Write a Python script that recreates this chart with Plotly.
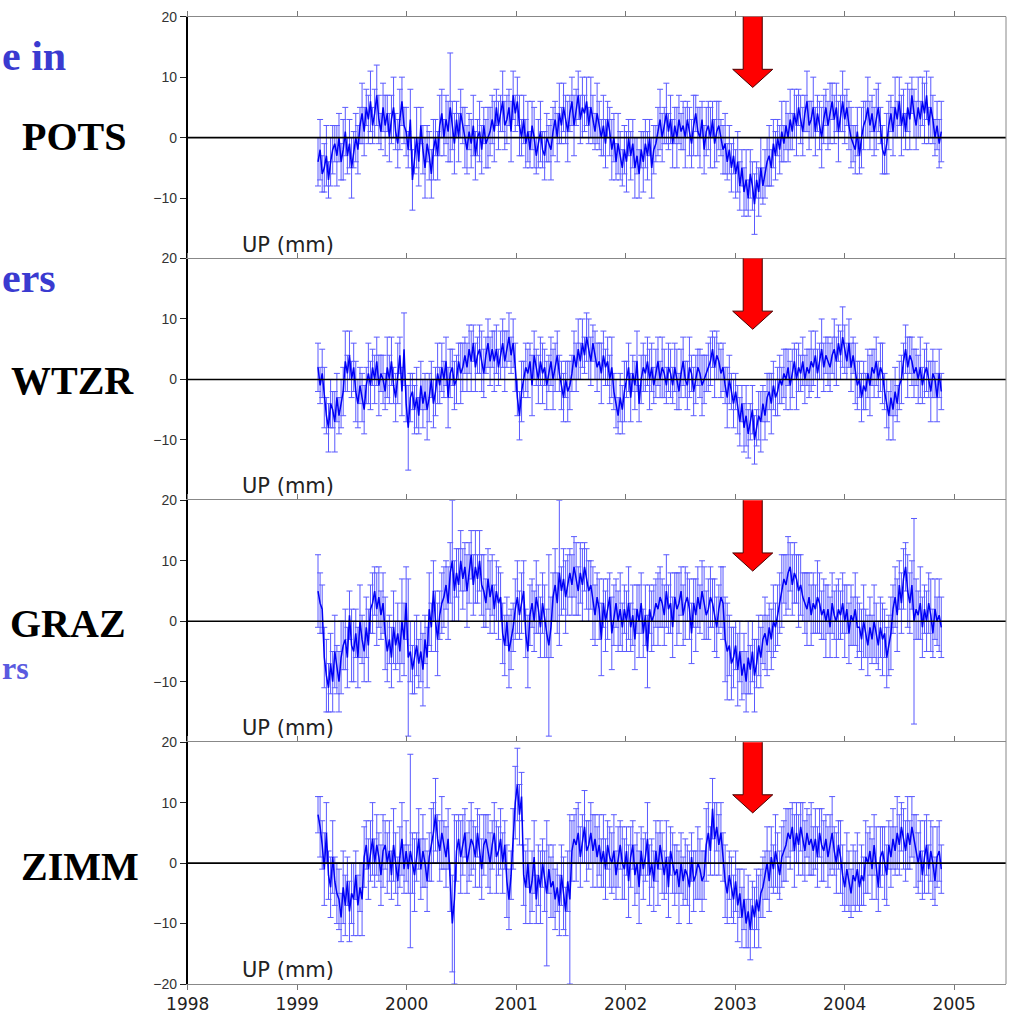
import plotly.graph_objects as go

# ---------------- data (weekly GPS height solutions, mm) ----------------
STATIONS = ["POTS", "WTZR", "GRAZ", "ZIMM"]
START_YEAR = 1999.19          # first weekly epoch (decimal year)
WEEK_YR = 7 / 365.25          # weekly sampling
EVENT_YEAR = 2003.16          # red arrow position
X_TICKS = [1998, 1999, 2000, 2001, 2002, 2003, 2004, 2005]
Y_TICKS_TOP = [-10, 0, 10, 20]
Y_TICKS_BOTTOM = [-20, -10, 0, 10, 20]

POTS_UP = [
    -4, -2, -6, -5, -3, -7, -4, -2, -1, -3, 0, -4, -2, 1, -3, -1, -5, -2, 0, -2,
    2, 4, 1, 5, 3, 6, 2, 4, 7, 3, 1, 5, 2, 4, 0, 3, 5, 1, -1, 3, 6, 2,
    1, -2, 3, -7, -3, 0, -4, 2, -2, -5, -1, -3, -6, -2, 0, -3, 2, 4, 0, 3, 1, 5, 2, -1, 3, 0, 4, 2,
    0, -2, 1, -1, 2, -3, 0, 1, -2, 2, -1, 0, 1, 3, 1, 5, 2, 4, 6, 2, 3, 5, 1, 7,
    4, 6, 2, 0, 3, -1, 1, -2, 2, 0, -3, -1, 1, -2, -3, 0, -1, -2, 1, 3, 0, 4, 2, 5, 3, 1,
    4, 6, 2, 5, 7, 3, 5, 4, 6, 2, 5, 3, 1, 4, 2, 0, 2, -1, 3, 1, -2, 0, -4, -1, -3, -5,
    -2, -4, 0, -3, -1, -5, -3, -6, -2, -4, -1, -3, 0, -5, -2, -1, 1, 3, 0, 2, 4, 1, 3, -1, 2, 0,
    3, 1, 2, 0, 3, 1, -1, 2, 4, 1, 0, 3, -2, 1, 2, 0, 3, -1, 1, 2, 0, -2, -1, -4, -2, -5,
    -3, -6, -4, -8, -5, -9, -7, -10, -6, -8, -11, -7, -9, -5, -8, -6, -4, -3, -5, -1, -3, 0, -2, 1, -1, 2,
    0, 3, 1, 4, 2, 5, 3, 1, 4, 6, 2, 3, 5, 1, 4, 2, 0, 3, 5, 2, 4, 6, 3, 5, 1, 4,
    6, 3, 5, 2, 0, -1, -2, 1, -3, 0, 2, 3, 5, 2, 4, 1, 3, 5, 2, -2, -3, -1,
    2, 4, 1, 5, 3, 6, 2, 4, 1, 5, 3, 7, 4, 2, 5, 3, 6, 4, 7, 2, 5, 3, 0, 2, -1, 1,
]
POTS_ERR = [
    4, 5, 3, 4, 5, 3, 4, 4, 3, 5, 4, 3, 5, 4, 3, 4, 5, 3, 4, 4, 3, 5, 4, 3, 4, 5, 3, 4, 5, 4,
    3, 4, 5, 3, 4, 4, 5, 3, 4, 5, 4, 3,
    4, 3, 5, 5, 3, 5, 4, 3, 4, 5, 3, 4, 4, 5, 3, 4, 5, 4, 3, 4, 5, 9, 4, 5, 3, 4, 4, 3, 5, 4,
    3, 4, 5, 4, 3, 5, 4, 3, 4, 5, 4, 4, 5, 3, 4, 3, 5, 4, 4, 3, 5, 4,
    3, 4, 5, 3, 4, 4, 5, 3, 4, 5, 3, 4, 5, 3, 4, 4, 3, 5, 4, 3, 4, 5, 3, 4, 4, 5, 3, 4, 5, 3,
    4, 4, 5, 3, 4, 3, 5, 4, 3, 5, 4, 3, 5, 4, 3, 4, 5, 4, 3, 5, 4, 3,
    4, 5, 3, 4, 4, 5, 3, 4, 3, 5, 4, 4, 3, 5, 4, 3, 4, 5, 4, 3, 5, 3, 4, 4, 3, 5, 4, 3, 4, 5,
    3, 4, 4, 5, 3, 4, 5, 3, 4, 4, 4, 5, 3, 4, 5, 4, 3, 4, 5, 3, 4, 4,
    3, 4, 5, 4, 3, 4, 5, 3, 4, 4, 5, 3, 4, 5, 3, 4, 4, 5, 3, 4, 4, 3, 4, 5, 3, 4, 4, 5, 3, 4,
    5, 3, 4, 4, 3, 5, 4, 3, 5, 4, 3, 4, 5, 4, 3, 4, 5, 3, 4, 4, 5, 3,
    5, 4, 3, 4, 5, 3, 4, 4, 3, 5, 4, 3, 5, 4, 3, 4, 5, 4, 3, 4, 3, 5, 4, 3, 4, 5, 3, 4, 5, 4,
    3, 4, 5, 3, 4, 4, 5, 3, 4, 5, 4, 3, 5, 4, 3, 4, 4, 5,
]

WTZR_UP = [
    2, -1, 1, -3, -6, -8, -4, -5, -7, -3, -6, -4, -2, 3, 1, 4, 0, 2, -2, -4, -1, -3, -5, -1,
    1, -1, 2, 0, 3, -1, 1, 0, -2, 2, 0, 3, -1, -3, 1, 4, -2, 5,
    -4, -8, -3, -2, -5, -3, -6, -1, -4, -2, -5, -3, 0, -4, -2, 1, -1, 2, 0, 3, -3, 1, 2, -1, 0, 3, 1, 2,
    4, 2, 5, 3, 6, 2, 4, 5, 3, 1, 4, 6, 3, 5, 3, 5, 2, 4, 6, 3, 5, 7, 4, 6,
    2, -3, -6, -2, 0, 2, 1, 3, -1, 4, 2, 0, 3, 1, 2, -1, 1, 3, 0, 2, 4, 1, -1, -3, 0, -2, -1, 1,
    4, 2, 5, 3, 6, 4, 7, 5, 3, 6, 4, 2, 3, 1, 4, 2, 3, 0, 2, -2, -4, -6, -3, -5,
    -2, 0, 2, -3, 1, -1, 3, -4, 0, 2, 1, 3, 0, 2, -1, 1, 3, 0, 2, 1, -1, 2,
    1, -1, 2, 0, -2, 1, 3, 0, -1, 2, 1, -2, 0, 2, 1, -1, 0, 1, 2, 3, 5, 2, 4, 3, 1, 2, -1, -3, 0, -2,
    -4, -2, -5, -7, -4, -8, -6, -9, -7, -5, -10, -8, -6, -7, -4, -6, -3, -2, -4, -1, -3, -2, 0, -1,
    1, 0, 2, -1, 1, 3, 0, 2, 1, 3, 0, 2, 1, 3, 2, 4, 1, 3, 5, 2, 4, 3, 2, 4, 5, 3, 6, 4,
    7, 5, 3, 6, 2, 4, 1, -1, 0, -3, -1, -2, 1, -1, 2, 1, 3, 0, 2, 1, -2, -4,
    -6, -3, -5, -2, -4, -1, 0, 3, 5, 2, 4, 3, 1, 2, 0, 2, -1, 1, 2, 0, -2, 1, 0, -3, 1, -2,
]
WTZR_ERR = [
    4, 3, 4, 5, 3, 4, 4, 3, 5, 4, 3, 4, 4, 5, 3, 4, 3, 4, 5, 4, 3, 4, 4, 3, 5, 4, 3, 4, 4, 5,
    3, 4, 3, 5, 4, 4, 3, 4, 5, 3, 4, 6,
    3, 7, 4, 3, 4, 5, 3, 4, 4, 3, 5, 4, 3, 4, 4, 5, 3, 4, 3, 4, 5, 4, 3, 4, 4, 3, 5, 4, 3, 4,
    4, 5, 3, 4, 3, 4, 5, 4, 3, 4, 4, 3, 5, 4, 3, 4, 4, 5, 3, 4, 3, 4,
    4, 3, 4, 5, 3, 4, 4, 3, 5, 4, 3, 4, 4, 5, 3, 4, 3, 4, 5, 4, 4, 3, 4, 4, 3, 5, 4, 3, 4, 4,
    5, 3, 4, 3, 4, 5, 4, 3, 4, 4, 3, 5, 4, 3, 4, 4, 5, 3, 4, 3, 4, 4,
    5, 3, 4, 4, 3, 4, 5, 3, 4, 4, 3, 4, 5, 4, 3, 4, 4, 3, 5, 4, 3, 4, 4, 3, 4, 5, 3, 4, 4, 3,
    4, 5, 3, 4, 4, 3, 4, 5, 4, 3, 4, 4, 3, 5, 4, 3, 4, 4, 3, 5, 4, 3,
    4, 3, 4, 4, 3, 4, 5, 4, 3, 4, 4, 3, 4, 5, 3, 4, 4, 3, 5, 4, 3, 4, 4, 3, 4, 5, 3, 4, 4, 3,
    5, 4, 3, 4, 4, 3, 4, 5, 3, 4, 4, 3, 5, 4, 3, 4, 4, 3, 5, 4, 3, 4,
    5, 4, 3, 4, 4, 3, 5, 4, 3, 4, 4, 3, 4, 5, 3, 4, 4, 3, 4, 5, 3, 4, 4, 3, 5, 4, 3, 4, 4, 3,
    4, 5, 3, 4, 4, 3, 4, 5, 3, 4, 4, 3, 5, 4, 3, 4, 4, 3,
]

GRAZ_UP = [
    5, 3, 2, -6, -9, -11, -7, -10, -5, -8, -10, -6, -4, -3, -6, 1, -4, -5, -2, -6, 0, -3, -5, -1, -4, 2,
    3, 5, 2, 4, 1, 3, -2, -5, -3, -6, -1, -4, -2, -5, 0, -3,
    3, -6, -5, -8, -6, -4, -7, -5, -8, -3, -6, 2, -1, 5, 0, -3, 1, 3, 4, 6, 3, 8, 10, 5,
    8, 6, 10, 7, 9, 5, 8, 11, 6, 9, 7, 10, 6, 5, 3, 7, 4, 6, 2, 5, 3, 4, -2, -4, 0, -5, -3, -1,
    2, 4, 1, 3, 5, -2, -5, 1, 3, 0, 4, 2, -1, 3, 0, -2, -4, -1, 4, 6, 3, 8, 5, 7, 4, 6,
    8, 6, 9, 7, 5, 8, 6, 9, 7, 5, 6, 3, 1, 4, 2, -3, 3, 0, 2, 4, -2, 1, 3, 0, 2, -1,
    2, 0, 3, -1, 1, -3, 2, 0, 3, -2, 1, -5, 2, 0, 1, 3, 2, 4, 3, 1, 5, 2, 3, -1, 4, 2,
    3, 5, 1, 3, 4, 2, -2, 3, 1, 4, 2, 5, 3, 1, 2, 4, 3, 1, -1, 2, 4, 3, -3, -5, -4, -7,
    -6, -4, -8, -5, -9, -7, -10, -6, -8, -5, -9, -7, -4, -6, -3, -2, -4, -1, -3, 0, -1, 1,
    3, 5, 7, 6, 8, 9, 6, 8, 7, 5, 6, 4, 3, 2, 4, 1, 3, 2, 4, 3, 1, 2, 0, 2, -1, 3, 1, 0, 2, 1,
    3, 0, 2, -2, 1, 0, 2, -1, -1, -3, 0, -2, -4, -1, -3, 0, -2, -4, -1, -3, -2, -6, -4, -2,
    2, 4, 1, 6, 3, 7, 9, 5, 3, 6, 0, 2, 1, 3, -1, 2, 0, 3, 1, -2, 2, 0, 1, -1,
]
GRAZ_ERR = [
    6, 5, 4, 5, 6, 4, 5, 5, 6, 4, 5, 6, 4, 5, 5, 4, 6, 5, 4, 5, 6, 4, 5, 5, 6, 4, 5, 4, 6, 5,
    4, 5, 6, 5, 4, 5, 6, 4, 5, 5, 7, 6,
    6, 13, 5, 4, 6, 5, 4, 5, 6, 4, 5, 6, 4, 5, 5, 6, 4, 5, 5, 4, 6, 5, 10, 5, 4, 6, 5, 5, 4, 6,
    5, 4, 5, 6, 4, 5, 5, 6, 4, 5, 6, 5, 4, 5, 6, 4, 5, 5, 4, 6, 5, 4,
    5, 6, 4, 5, 5, 4, 6, 5, 4, 5, 6, 4, 5, 5, 6, 4, 15, 5, 4, 6, 5, 12, 4, 5, 6, 5, 4, 5, 5, 6,
    4, 5, 6, 4, 5, 5, 4, 6, 5, 4, 5, 6, 4, 5, 5, 4, 6, 5, 4, 5, 6, 4,
    4, 5, 6, 4, 5, 5, 4, 6, 5, 4, 5, 6, 4, 5, 5, 4, 6, 5, 4, 5, 6, 4, 5, 5, 4, 6, 5, 4, 5, 6,
    4, 5, 5, 4, 6, 5, 4, 5, 6, 4, 5, 5, 4, 6, 5, 4, 5, 6, 7, 8, 5, 6,
    5, 4, 6, 5, 4, 5, 5, 6, 4, 5, 6, 4, 5, 5, 4, 6, 5, 4, 5, 6, 4, 5, 5, 6, 4, 5, 6, 4, 5, 5,
    4, 6, 5, 4, 5, 6, 4, 5, 5, 4, 6, 5, 4, 5, 6, 4, 5, 5, 4, 6, 5, 4,
    5, 6, 4, 5, 5, 4, 6, 5, 4, 5, 6, 4, 5, 5, 4, 6, 5, 4, 5, 6, 4, 5, 5, 6, 4, 5, 6, 4, 5, 5,
    4, 6, 5, 4, 17, 5, 4, 6, 5, 4, 5, 5, 6, 4, 5, 4, 6, 5,
]

ZIMM_UP = [
    8, 6, 3, -1, 5, -2, -4, 1, -3, -5, -6, -9, -4, -7, -3, -8, -5, -6, -2, -7, -4, -6,
    1, 3, -1, 2, 4, 0, 3, 1, -2, 2, 3, 0, 2, -2, 3, 0, -3, 1, 4, -1,
    2, -1, 2, 0, -2, 1, 4, -1, 2, 0, -3, 1, 3, 5, 8, 4, 2, 5, 3, 1, 4, -4, -10, -6,
    2, 4, 1, 3, 5, 0, 2, 4, 3, 1, 5, 2, -1, 3, 4, 2, 0, 3, 5, 1, 2, 4, 0, 3, -3, -6, -2, 4,
    10, 13, 8, 11, -2, -4, 0, -5, -3, 1, -6, -2, -4, 0, -3, -5, -1, -4, -3, -6, -4, -7, -2, -5, -8, -3, -6,
    2, 4, 3, 5, 1, 4, 6, 2, 3, 5, 2, 4, 1, 3, 0, 2, -1, 3, 1, 0, 2, -2, 1, 3, 0,
    -1, 2, -3, 1, 3, -2, 0, -4, 2, -1, 1, 4, -2, 0, -3, 2, -1, 3, 0, -2, 1, -4, 2, 0,
    -2, -1, -4, 0, -3, -1, -2, -4, 1, -3, -2, 0, -1, -3, -2, 3, 5, 2, 9, 4, 6, 3, 5, 1, -3, -5, -2, -4,
    -6, -3, -7, -5, -9, -6, -10, -8, -11, -7, -9, -6, -8, -5, -4, -2, 0, -3, 1, -1, 2, 0, -2, 1, 2,
    3, 5, 4, 6, 2, 5, 3, 6, 4, 2, 5, 3, 4, 2, 4, 1, 5, 3, 2, 4, 1, 3, 5, 2, 0, 3, 1,
    -2, -4, -1, -3, -5, -2, -3, -1, -4, -2, -3, 1, 0, 2, -1, 3, 0, -4, 1, 2, 0, -2, 3, 1,
    4, 2, 5, 3, 6, 4, 2, 5, 3, 6, 4, 2, 0, 2, -2, 1, 3, -1, 2, 0, -3, 1, 2, -1,
]
ZIMM_ERR = [
    3, 5, 4, 6, 5, 4, 5, 6, 4, 5, 5, 4, 6, 5, 4, 5, 5, 6, 4, 5, 4, 6, 5, 4, 5, 5, 6, 4, 5, 4,
    5, 6, 4, 5, 5, 4, 6, 5, 4, 5, 6, 4,
    5, 4, 16, 5, 6, 4, 5, 5, 6, 4, 5, 4, 6, 5, 6, 4, 5, 6, 4, 5, 5, 4, 8, 14, 5, 4, 6, 5, 4, 5,
    5, 6, 4, 5, 4, 6, 5, 5, 4, 6, 5, 4, 5, 6, 4, 5, 5, 4, 6, 5, 4, 5,
    6, 6, 5, 4, 5, 6, 4, 5, 5, 6, 4, 5, 6, 4, 5, 12, 4, 5, 6, 5, 4, 5, 5, 6, 4, 5, 14, 5, 4, 6,
    5, 5, 4, 6, 5, 4, 5, 6, 4, 5, 5, 4, 6, 5, 4, 5, 5, 6, 4, 5, 4, 6,
    5, 4, 6, 5, 4, 5, 5, 6, 4, 5, 4, 6, 5, 4, 5, 5, 6, 4, 5, 4, 6, 5, 4, 5, 5, 4, 6, 5, 4, 5,
    5, 6, 4, 5, 4, 6, 5, 5, 4, 6, 5, 4, 5, 6, 4, 5, 5, 4, 6, 5, 4, 5,
    4, 5, 6, 4, 5, 5, 4, 6, 5, 4, 5, 5, 6, 4, 5, 4, 6, 5, 5, 4, 6, 5, 4, 5, 5, 6, 4, 5, 4, 6,
    5, 5, 4, 6, 5, 4, 5, 6, 4, 5, 5, 4, 6, 5, 4, 5, 5, 6, 4, 5, 4, 6,
    5, 4, 6, 5, 4, 5, 5, 6, 4, 5, 4, 6, 5, 4, 5, 5, 6, 4, 5, 4, 6, 5, 4, 5, 5, 4, 6, 5, 4, 5,
    5, 6, 4, 5, 4, 6, 5, 5, 4, 6, 5, 4, 5, 6, 4, 5, 5, 4,
]

SERIES = {
    "POTS": (POTS_UP, POTS_ERR),
    "WTZR": (WTZR_UP, WTZR_ERR),
    "GRAZ": (GRAZ_UP, GRAZ_ERR),
    "ZIMM": (ZIMM_UP, ZIMM_ERR),
}

# ---------------- layout geometry (pixels) ----------------
W, H = 1010, 1014
XL_PX, XR_PX = 187.7, 1006.0
YT_PX, YB_PX = 16.7, 984.0
PX_PER_YEAR = 109.5
PH = (YB_PX - YT_PX) / 4
X_RANGE = [1998, 1998 + (XR_PX - XL_PX) / PX_PER_YEAR]

LABEL_POS = {  # (center x px, center y px) for station names
    "POTS": (74, 136), "WTZR": (72, 380), "GRAZ": (68, 623), "ZIMM": (80, 866),
}

fig = go.Figure()
shapes, annotations = [], []

for k, name in enumerate(STATIONS):
    up, err = SERIES[name]
    n = min(len(up), len(err))
    xs = [START_YEAR + i * WEEK_YR for i in range(n)]
    sfx = "" if k == 0 else str(k + 1)
    fig.add_trace(go.Scatter(
        x=xs, y=up[:n], mode="lines", name=name, showlegend=False,
        line=dict(color="#0000f5", width=1.5),
        error_y=dict(type="data", array=err[:n], visible=True,
                     color="#5a5aff", thickness=1, width=3),
        xaxis="x" + sfx, yaxis="y" + sfx,
    ))
    top = YT_PX + k * PH
    dom = [1 - (top + PH) / H, 1 - top / H]
    last = (k == 3)
    xa = dict(
        domain=[XL_PX / W, XR_PX / W], range=X_RANGE, anchor="y" + sfx,
        tickvals=X_TICKS, ticks="outside", ticklen=5, tickcolor="#777",
        showline=True, linecolor="#888", linewidth=1, showgrid=False, zeroline=False,
        side="bottom" if last else "top", mirror="ticks" if last else False,
        showticklabels=last,
        tickfont=dict(family="DejaVu Sans", size=17, color="#222"),
    )
    if k > 0:
        xa["matches"] = "x"
    ya = dict(
        domain=dom, range=[-20, 20], anchor="x" + sfx,
        tickvals=Y_TICKS_BOTTOM if last else Y_TICKS_TOP,
        ticks="outside", ticklen=6, tickcolor="#222",
        showline=True, linecolor="#000", linewidth=1.6,
        showgrid=False, zeroline=False,
        tickfont=dict(family="Liberation Sans", size=14, color="#333"),
    )
    fig.layout["xaxis" + sfx] = xa
    fig.layout["yaxis" + sfx] = ya

    # zero line drawn over the data
    shapes.append(dict(type="line", xref="x" + sfx + " domain", yref="y" + sfx,
                       x0=0, x1=1, y0=0, y1=0, line=dict(color="#000", width=1.6),
                       layer="above"))
    # red event arrow
    sw, hw = 0.087, 0.183
    ytop, yhead, ytip = 20.6, 11.3, 8.3
    xe = EVENT_YEAR
    path = (f"M {xe - sw},{ytop} L {xe + sw},{ytop} L {xe + sw},{yhead} "
            f"L {xe + hw},{yhead} L {xe},{ytip} L {xe - hw},{yhead} "
            f"L {xe - sw},{yhead} Z")
    shapes.append(dict(type="path", path=path, xref="x" + sfx, yref="y" + sfx,
                       fillcolor="#ff0000", line=dict(color="#4a0000", width=1),
                       layer="above"))
    # "UP (mm)" label
    annotations.append(dict(
        text="UP (mm)", xref="x" + sfx + " domain", yref="y" + sfx + " domain",
        x=(240 - XL_PX) / (XR_PX - XL_PX), y=0, xanchor="left", yanchor="bottom",
        showarrow=False, font=dict(family="DejaVu Sans", size=21, color="#222"),
    ))
    # station name
    cx, cy = LABEL_POS[name]
    annotations.append(dict(
        text="<b>" + name + "</b>", xref="paper", yref="paper",
        x=cx / W, y=1 - cy / H, xanchor="center", yanchor="middle",
        showarrow=False, font=dict(family="Liberation Serif", size=40, color="#000"),
    ))

# right border
shapes.append(dict(type="line", xref="paper", yref="paper",
                   x0=XR_PX / W, x1=XR_PX / W, y0=1 - YB_PX / H, y1=1 - YT_PX / H,
                   line=dict(color="#888", width=1)))

# slide-title fragments at the far left (kept fully inside the frame)
for txt, xl, cy, size, col in [("e in", 1, 56, 42, "#3a3ad0"),
                               ("ers", 1, 278, 42, "#3a3ad0"),
                               ("rs", 1, 668, 32, "#5a5ae0")]:
    annotations.append(dict(
        text="<b>" + txt + "</b>", xref="paper", yref="paper",
        x=xl / W, y=1 - cy / H, xanchor="left", yanchor="middle",
        showarrow=False, borderpad=0,
        font=dict(family="Liberation Serif", size=size, color=col),
    ))

fig.update_layout(
    width=W, height=H, autosize=False,
    margin=dict(l=0, r=0, t=0, b=0, autoexpand=False),
    paper_bgcolor="white", plot_bgcolor="white",
    shapes=shapes, annotations=annotations, showlegend=False,
)

fig.write_html("out.html", config={"displayModeBar": False},
               post_script="document.body.style.margin='0';document.body.style.overflow='hidden';")
